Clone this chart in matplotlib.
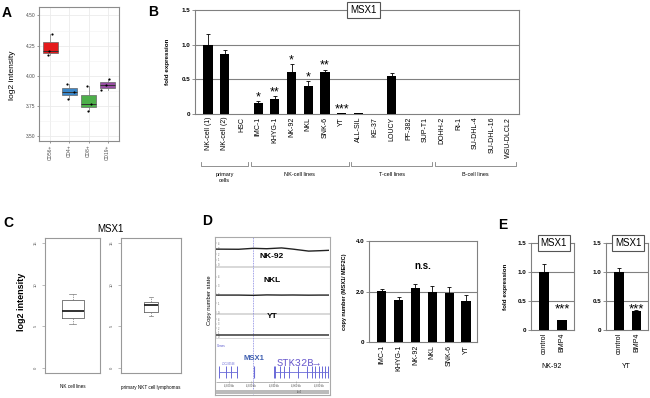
import numpy as np
import matplotlib
matplotlib.use('Agg')
import matplotlib.pyplot as plt
from matplotlib import transforms

plt.rcParams['font.family'] = ['Liberation Sans', 'DejaVu Sans']

W, H = 650, 398

# ---------------- data ----------------
# A: log2 intensity per sorted population (3 samples each)
a_groups = ['CD56+', 'CD4+', 'CD8+', 'CD19+']
a_values = [[4.35, 4.208, 4.175], [3.935, 3.87, 3.81],
            [3.913, 3.77, 3.71], [3.974, 3.92, 3.886]]
a_jitter = [[0.09, -0.05, -0.12], [-0.12, 0.23, -0.07],
            [-0.10, 0.14, -0.04], [0.07, -0.07, -0.33]]
a_colors = ['#E41A1C', '#3A86C8', '#4DAF4A', '#984EA3']

# B: MSX1 qPCR
b_cells = ['NK-cell (1)', 'NK-cell (2)', 'HSC', 'IMC-1', 'KHYG-1', 'NK-92', 'NKL',
           'SNK-6', 'YT', 'ALL-SIL', 'KE-37', 'LOUCY', 'PF-382', 'SUP-T1',
           'DOHH-2', 'Ri-1', 'SU-DHL-4', 'SU-DHL-16', 'WSU-DLCL2']
b_expr = [1.0, 0.87, 0, 0.155, 0.21, 0.60, 0.40, 0.60, 0.01, 0.02, 0, 0.55,
          0, 0, 0, 0, 0, 0, 0]
b_err = [0.16, 0.05, 0, 0.035, 0.05, 0.12, 0.08, 0.04, 0, 0, 0, 0.04,
         0, 0, 0, 0, 0, 0, 0]
b_stars = ['', '', '', '*', '**', '*', '*', '**', '***', '', '', '',
           '', '', '', '', '', '', '']
b_groups = ['primary\ncells', 'NK-cell lines', 'T-cell lines', 'B-cell lines']
b_group_idx = [(0, 2), (3, 8), (9, 13), (14, 18)]

# C: boxplot stats (log2 intensity)
c_groups = ['NK cell lines', 'primary NKT cell lymphomas']
c_med = [6.87, 7.55]
c_q1 = [6.0, 6.75]
c_q3 = [8.15, 7.95]
c_lo = [5.25, 6.24]
c_hi = [8.87, 8.55]

# D: copy number tracks (screenshot) and genomic qPCR
d_tracks = ['NK-92', 'NKL', 'YT']
d_cn_pos = [0, 0.2, 0.33, 0.45, 0.58, 0.68, 0.82, 0.92, 1.0]
d_cn = [[2.0, 1.98, 2.1, 2.05, 2.15, 2.0, 1.75, 1.8, 1.85],
        [2.0, 2.0, 1.97, 2.02, 2.0, 2.01, 1.99, 2.0, 2.0],
        [2.0, 2.0, 2.01, 2.0, 1.99, 2.0, 2.0, 2.01, 2.0]]
d_gene_left = [0.024, 0.088, 0.133, 0.186]
d_msx1 = 0.339
d_stk32b = [0.51, 0.52, 0.566, 0.60, 0.646, 0.726, 0.805, 0.85, 0.876, 0.91,
            0.938, 0.965, 0.99]
d_ruler = [0.115, 0.31, 0.513, 0.71, 0.91]
d_ruler_lab = ['4,800 kb', '4,820 kb', '4,840 kb', '4,860 kb', '4,880 kb']

d_cells = ['IMC-1', 'KHYG-1', 'NK-92', 'NKL', 'SNK-6', 'YT']
d_copy = [2.01, 1.68, 2.13, 2.0, 1.96, 1.62]
d_err = [0.09, 0.10, 0.17, 0.22, 0.20, 0.25]

# E: BMP4 treatment
e_conds = ['control', 'BMP4']
e_lines = ['NK-92', 'YT']
e_expr = [[1.0, 0.17], [1.0, 0.33]]
e_err = [[0.13, 0.01], [0.07, 0.01]]

GRAY = '#808080'

fig = plt.figure(figsize=(W / 100, H / 100), dpi=100)


def px_axes(l, t, r, b):
    return fig.add_axes([l / W, 1 - b / H, (r - l) / W, (b - t) / H])


def ftext(x, y, s, **kw):
    fig.text(x / W, 1 - y / H, s, **kw)


def excel_bars(ax, labels, vals, errs, ymax, yticks, yticklabels, grid):
    x = np.arange(len(labels))
    ax.bar(x, vals, width=0.55, color='black', zorder=3)
    idx = [i for i, e in enumerate(errs) if e > 0]
    ax.errorbar(x[idx], [vals[i] for i in idx],
                yerr=[np.zeros(len(idx)), [errs[i] for i in idx]],
                fmt='none', ecolor='black', elinewidth=0.6, capsize=1.2,
                capthick=0.6, zorder=4)
    for g in grid:
        ax.axhline(g, color=GRAY, lw=0.8, zorder=1)
    ax.set_ylim(0, ymax)
    ax.set_yticks(yticks)
    ax.set_yticklabels(yticklabels, fontsize=4.5, fontweight='bold')
    ax.set_xticks(x)
    ax.set_xticklabels(labels, rotation=90, fontsize=5)
    ax.tick_params(axis='x', length=0, pad=2)
    ax.tick_params(axis='y', length=2, width=0.6, pad=1.5, color=GRAY)
    for s in ax.spines.values():
        s.set_color(GRAY)
        s.set_linewidth(0.8)
    return x


# ---------------- A ----------------
ax = px_axes(39, 7, 119, 141)
pos = np.arange(1, 5)
bp = ax.boxplot(a_values, positions=pos, widths=0.75, patch_artist=True,
                showfliers=False, showcaps=False,
                boxprops=dict(edgecolor='#666666', linewidth=0.5),
                medianprops=dict(color='#333333', linewidth=0.7),
                whiskerprops=dict(color='#777777', linewidth=0.5), zorder=2)
for patch, c in zip(bp['boxes'], a_colors):
    patch.set_facecolor(c)
for p, vals, jit in zip(pos, a_values, a_jitter):
    ax.scatter(p + np.array(jit), vals, s=2.5, color='black', zorder=3, lw=0)
ax.set_xlim(0.4, 4.6)
ax.set_ylim(3.46, 4.57)
ax.set_yticks([3.5, 3.75, 4.0, 4.25, 4.5])
ax.set_yticklabels(['3.50', '3.75', '4.00', '4.25', '4.50'], fontsize=3.5, color='#4d4d4d')
ax.set_yticks([3.625, 3.875, 4.125, 4.375], minor=True)
ax.set_xticks(pos)
ax.set_xticklabels(a_groups, rotation=90, fontsize=3.5, color='#4d4d4d')
ax.tick_params(length=1.5, width=0.4, color='#4d4d4d', pad=1)
ax.tick_params(which='minor', length=0)
ax.grid(True, which='major', color='#EBEBEB', lw=0.6, zorder=0)
ax.grid(True, which='minor', axis='y', color='#F2F2F2', lw=0.4, zorder=0)
ax.set_axisbelow(True)
for s in ax.spines.values():
    s.set_color('#8c8c8c')
    s.set_linewidth(0.8)
ftext(12, 75, 'log2 intensity', rotation=90, ha='center', va='center', fontsize=6)

# ---------------- B ----------------
ax = px_axes(195, 10, 519, 114)
x = excel_bars(ax, b_cells, b_expr, b_err, 1.5, [0, 0.5, 1.0, 1.5],
               ['0', '0.5', '1.0', '1.5'], [0.5, 1.0])
ax.set_xlim(-0.78, 18.62)
for i, s in enumerate(b_stars):
    if s:
        ax.annotate(s, (i, b_expr[i] + b_err[i]), xytext=(0, 0.5),
                    textcoords='offset points', ha='center', va='baseline',
                    fontsize=9, annotation_clip=False)
ax.text(0.52, 1.0, 'MSX1', transform=ax.transAxes, ha='center', va='center',
        fontsize=7, zorder=6,
        bbox=dict(boxstyle='square,pad=0.3', fc='white', ec='#555555', lw=0.8))
ax.set_ylabel('fold expression', fontsize=4.5, fontweight='bold')
ax.yaxis.set_label_coords(-0.077, 0.5)
trans = transforms.blended_transform_factory(ax.transData, ax.transAxes)
for name, (i0, i1) in zip(b_groups, b_group_idx):
    x0, x1 = i0 - 0.42, i1 + 0.42
    ax.plot([x0, x0, x1, x1], [-0.46, -0.5, -0.5, -0.46], transform=trans,
            color=GRAY, lw=0.6, clip_on=False)
    ax.text((i0 + i1) / 2, -0.56, name, transform=trans, ha='center', va='top',
            fontsize=4, linespacing=1.3)

# ---------------- C ----------------
ftext(110, 229, 'MSX1', ha='center', va='center', fontsize=7)
for k, (l, r, w) in enumerate([(45, 100, 0.8), (121, 181, 0.47)]):
    ax = px_axes(l, 238, r, 373)
    stats = [dict(med=c_med[k], q1=c_q1[k], q3=c_q3[k], whislo=c_lo[k],
                  whishi=c_hi[k], fliers=[])]
    ax.bxp(stats, positions=[0], widths=w, capwidths=w * 0.35, showfliers=False,
           boxprops=dict(color='#666666', lw=0.6),
           medianprops=dict(color='#222222', lw=1.3),
           whiskerprops=dict(color='#777777', lw=0.5, ls=(0, (2, 1.5))),
           capprops=dict(color='#777777', lw=0.5))
    ax.set_xlim(-1, 1)
    ax.set_ylim(-0.6, 15.6)
    ax.set_xticks([])
    ax.set_yticks([0, 5, 10, 15])
    ax.set_yticklabels(['0', '5', '10', '15'], rotation=90, va='center',
                       fontsize=3, color='#555555')
    ax.tick_params(axis='y', length=2, width=0.4, color='#888888', pad=3)
    for s in ax.spines.values():
        s.set_color('#999999')
        s.set_linewidth(0.8)
    ftext((l + r) / 2, 387, c_groups[k], ha='center', va='center', fontsize=3.3)
ftext(22, 302, 'log2 intensity', rotation=90, ha='center', va='center',
      fontsize=6.5, fontweight='bold')

# ---------------- D (copy number screenshot) ----------------
bg = px_axes(215, 237, 330, 395)
bg.set_xlim(215, 330)
bg.set_ylim(395, 237)
bg.set_xticks([])
bg.set_yticks([])
for s in bg.spines.values():
    s.set_color('#aaaaaa')
    s.set_linewidth(0.8)
for y0, y1 in [(265.5, 267.5), (312.5, 314.5), (337.5, 339)]:
    bg.axhspan(y0, y1, color='#d9d9d9', lw=0)
bg.axvline(253, color='#8080e0', lw=0.6, ls=(0, (1, 1)))

track_rects = [(216, 238, 329, 265), (216, 268, 329, 312), (216, 315, 329, 337)]
track_ylim = [(0, 3.4), (0, 5.2), (0, 22)]
track_lab_y = [256, 281, 317]
for name, rect, yl, vals, ly in zip(d_tracks, track_rects, track_ylim, d_cn, track_lab_y):
    ta = px_axes(*rect)
    ta.patch.set_alpha(0)
    ta.plot(d_cn_pos, vals, color='#222222', lw=1.0)
    ta.set_xlim(0, 1)
    ta.set_ylim(*yl)
    ta.set_xticks([])
    ta.set_yticks(np.linspace(yl[0], yl[1], 6)[:-1])
    ta.set_yticklabels(['0', '1', '2', '3', '4'], fontsize=1.8, color='#666666')
    for lab in ta.get_yticklabels():
        lab.set_ha('left')
    ta.tick_params(axis='y', direction='in', length=0.8, width=0.3, pad=-1.2,
                   color='#888888')
    for s in ta.spines.values():
        s.set_visible(False)
    ftext(272, ly, name, ha='center', va='center', fontsize=6, fontweight='bold')

ga = px_axes(216, 340, 329, 394)
ga.patch.set_alpha(0)
ga.set_xlim(0, 1)
ga.set_ylim(0, 1)
ga.axis('off')
ga.text(0.01, 0.89, 'Genes', fontsize=2.2, color='#5555cc', va='center')
ga.hlines(0.41, d_gene_left[0], d_gene_left[-1], color='#6a6ad8', lw=0.6)
ga.vlines(d_gene_left, 0.3, 0.52, color='#6a6ad8', lw=0.7)
ga.text(np.mean(d_gene_left), 0.56, 'LOC285548', fontsize=1.8, color='#6a6ad8',
        ha='center', va='center')
ga.vlines([d_msx1], 0.3, 0.52, color='#6a6ad8', lw=0.8)
ga.hlines(0.41, d_stk32b[0], d_stk32b[-1], color='#6a6ad8', lw=0.6)
ga.vlines(d_stk32b, 0.3, 0.52, color='#6a6ad8', lw=0.7)
ga.text(d_msx1, 0.66, 'MSX1', fontsize=5.5, color='#3f5fb0', ha='center',
        va='center', fontweight='bold')
ga.text(0.73, 0.57, 'STK32B\u2192', fontsize=7.5, color='#6a5acd', ha='center',
        va='center', family=['Liberation Mono', 'DejaVu Sans Mono'])
ga.hlines(0.22, 0, 1, color='#999999', lw=0.5)
ga.vlines(d_ruler, 0.2, 0.25, color='#999999', lw=0.4)
for xr, lab in zip(d_ruler, d_ruler_lab):
    ga.text(xr, 0.15, lab, fontsize=1.8, color='#444444', ha='center', va='center')
ga.axhspan(0, 0.07, color='#bbbbbb', lw=0)
ga.text(0.74, 0.035, 'chr4', fontsize=1.8, color='#444444', ha='center', va='center')
ftext(209, 300, 'Copy number state', rotation=90, ha='center', va='center',
      fontsize=4.2)

# D right: genomic copy number
ax = px_axes(369, 241, 477, 342)
excel_bars(ax, d_cells, d_copy, d_err, 4.0, [0, 2.0, 4.0], ['0', '2.0', '4.0'], [2.0])
ax.set_xlim(-0.75, 5.65)
ax.text(0.5, 0.75, 'n.s.', transform=ax.transAxes, ha='center', va='center',
        fontsize=7, fontweight='bold')
ax.set_ylabel('copy number (MSX1/ MEF2C)', fontsize=4, fontweight='bold')
ax.yaxis.set_label_coords(-0.2, 0.5)

# ---------------- E ----------------
for k, (l, r) in enumerate([(531, 574), (606, 648)]):
    ax = px_axes(l, 243, r, 330)
    excel_bars(ax, e_conds, e_expr[k], e_err[k], 1.5, [0, 0.5, 1.0, 1.5],
               ['0', '0.5', '1.0', '1.5'], [0.5, 1.0])
    ax.set_xlim(-0.72, 1.65)
    ax.text(1, 0.2, '***', transform=transforms.blended_transform_factory(
        ax.transData, ax.transAxes), ha='center', va='baseline', fontsize=9.5)
    ax.text(0.53, 1.0, 'MSX1', transform=ax.transAxes, ha='center', va='center',
            fontsize=7, zorder=6,
            bbox=dict(boxstyle='square,pad=0.3', fc='white', ec='#555555', lw=0.8))
    ftext((l + r) / 2 - 1, 367, e_lines[k], ha='center', va='center', fontsize=5)
    if k == 0:
        ax.set_ylabel('fold expression', fontsize=4.5, fontweight='bold')
        ax.yaxis.set_label_coords(-0.53, 0.5)

# panel letters
for lab, (px, py) in zip('ABCDE', [(7, 13), (153, 12), (8, 223), (207, 221), (503, 225)]):
    ftext(px, py, lab, ha='center', va='center', fontsize=10, fontweight='bold')

fig.savefig('out.png', dpi=100)
